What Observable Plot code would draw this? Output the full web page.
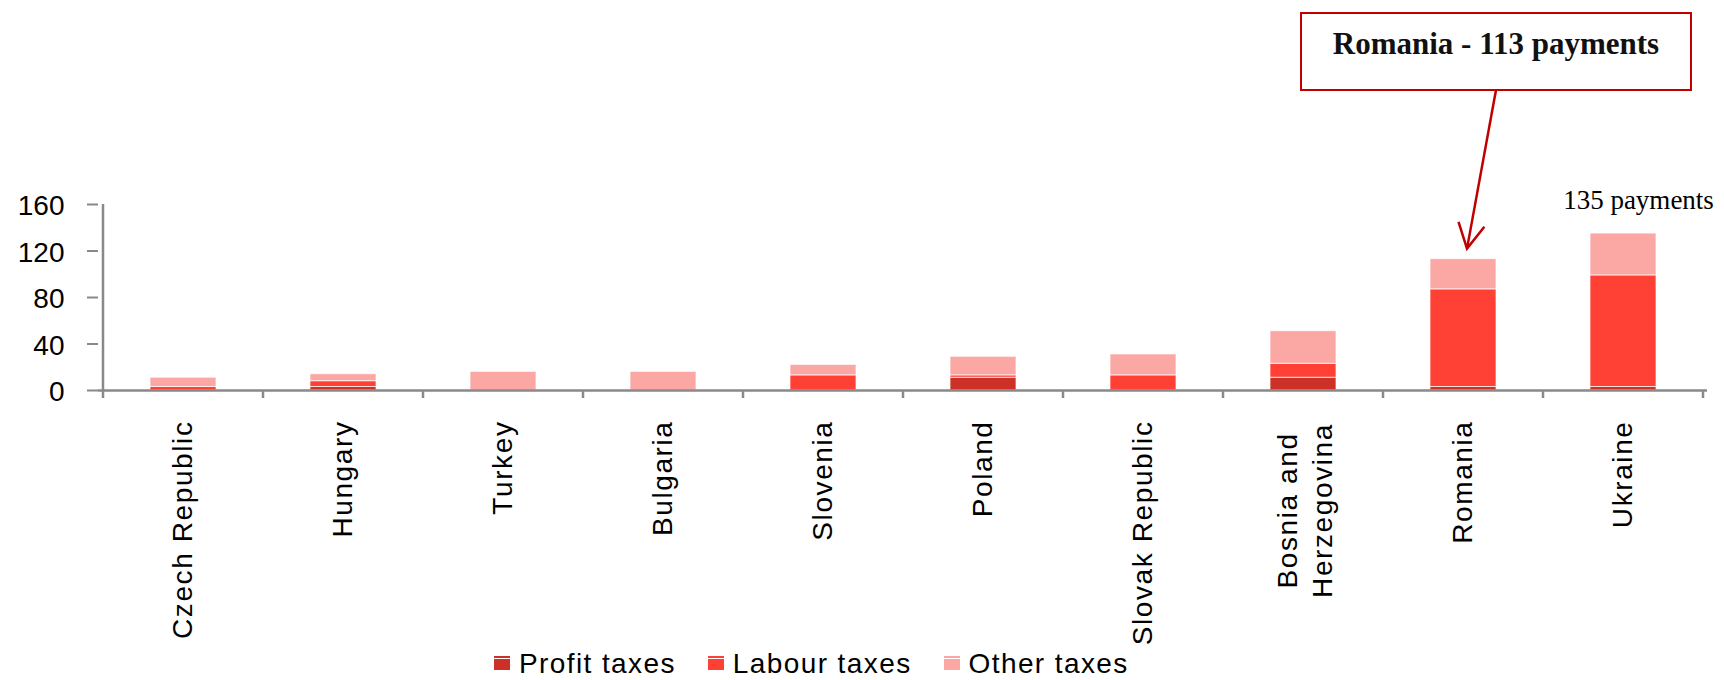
<!DOCTYPE html>
<html>
<head>
<meta charset="utf-8">
<script src="https://cdn.jsdelivr.net/npm/d3@7"></script>
<script src="https://cdn.jsdelivr.net/npm/@observablehq/plot@0.6"></script>
<style>
  body { margin: 0; background: #fff; }
  #wrap { position: relative; width: 1724px; height: 680px; overflow: hidden; font-family: "Liberation Sans", Arial, sans-serif; }
  #chart svg { display: block; overflow: visible; }
  #legend { position: absolute; left: 0; top: 640px; width: 1724px; height: 40px; display: flex; align-items: flex-start; padding-left: 494px; padding-top: 9.6px; box-sizing: border-box; }
  .item { display: flex; align-items: flex-start; margin-right: 32px; }
  .sw { width: 16px; height: 14px; margin-top: 6px; margin-right: 9px; }
  .lt { font-size: 28px; line-height: 28px; letter-spacing: 1.4px; color: #000; white-space: nowrap; }
</style>
</head>
<body>
<div id="wrap">
  <div id="chart"></div>
  <div id="legend"></div>
</div>
<script>
// ---- data (payments per year) ----
const countries = ["Czech Republic", "Hungary", "Turkey", "Bulgaria", "Slovenia", "Poland", "Slovak Republic", "Bosnia and Herzegovina", "Romania", "Ukraine"];
const profitTaxes = [0, 3, 0, 0, 0, 11, 0, 11, 3, 3];
const labourTaxes = [3, 5, 0, 0, 13, 2, 13, 12, 84, 96];
const otherTaxes  = [8, 6, 16, 16, 9, 16, 18, 28, 26, 36];
const seriesNames = ["Profit taxes", "Labour taxes", "Other taxes"];
const seriesColors = ["#CD3027", "#FE4035", "#FBA8A5"];
const yTicks = [0, 40, 80, 120, 160];
const calloutCountry = "Romania";
const labelCountry = "Ukraine";

const seriesValues = [profitTaxes, labourTaxes, otherTaxes];
const rows = [];
countries.forEach((c, i) => {
  seriesNames.forEach((s, k) => {
    if (seriesValues[k][i] > 0) rows.push({country: c, type: s, value: seriesValues[k][i]});
  });
});
const totals = countries.map((c, i) => ({country: c, total: profitTaxes[i] + labourTaxes[i] + otherTaxes[i]}));
const total = name => totals.find(d => d.country === name).total;

const axisGray = "#898989";

const chart = Plot.plot({
  width: 1724,
  height: 640,
  marginLeft: 98,
  marginRight: 17,
  marginTop: 204,
  marginBottom: 250,
  style: {fontFamily: "'Liberation Sans', Arial, sans-serif", color: "#000", background: "#fff", overflow: "visible"},
  x: {domain: countries, paddingInner: 0.59, paddingOuter: 0.295, label: null},
  y: {domain: [0, 160], label: null},
  color: {domain: seriesNames, range: seriesColors},
  marks: [
    Plot.barY(rows, {x: "country", y: "value", fill: "type", stroke: "#fff", strokeWidth: 1, strokeOpacity: 0.7}),
    Plot.ruleY([0], {stroke: axisGray, strokeWidth: 2.7}),
    Plot.axisY({ticks: yTicks, tickSize: 11, tickPadding: 23, fontSize: 28, stroke: axisGray, strokeWidth: 2, fill: "#000", label: null}),
    Plot.axisX({tickSize: 0, tickRotate: -90, tickPadding: 30, fontSize: 28, fill: "#000", label: null,
      tickFormat: d => d === "Bosnia and Herzegovina" ? "" : d}),
    Plot.text(["Bosnia and\nHerzegovina"], {x: () => "Bosnia and Herzegovina", frameAnchor: "bottom", text: d => d,
      rotate: -90, textAnchor: "middle", lineAnchor: "middle", lineHeight: 1.25, dy: 120, fontSize: 28, fill: "#000"}),
    Plot.text(totals.filter(d => d.country === labelCountry), {x: "country", y: "total", text: d => `${d.total} payments`,
      dx: 15, dy: -33, fontSize: 27, fontFamily: "'Liberation Serif', 'Times New Roman', serif", fill: "#000"})
  ]
});
chart.style.overflow = "visible";
document.getElementById("chart").appendChild(chart);

const svg = d3.select(chart);
// nudge y tick labels slightly down, like the original
svg.selectAll('g[aria-label="y-axis tick label"]').each(function() {
  const t = this.getAttribute("transform") || "";
  this.setAttribute("transform", (t + " translate(0,2)").trim());
});
// letter spacing like the original rendering
svg.selectAll('g[aria-label="x-axis tick label"] text, g[aria-label="text"] text')
  .filter(function(){ return this.textContent.indexOf("payments") < 0; })
  .style("letter-spacing", "1.6px");

// axis lines & category boundary ticks using the chart's own scales
const xs = chart.scale("x"), ys = chart.scale("y");
const step = xs.step, bw = xs.bandwidth;
const x0 = xs.apply(countries[0]) - (step - bw) / 2;
const yZero = ys.apply(0), yTop = ys.apply(160);
const g = svg.append("g").attr("stroke", axisGray).attr("stroke-width", 2.5);
g.append("line").attr("x1", x0).attr("x2", x0).attr("y1", yTop).attr("y2", yZero + 8);
for (let i = 1; i <= countries.length; i++) {
  const bx = x0 + i * step;
  g.append("line").attr("x1", bx).attr("x2", bx).attr("y1", yZero).attr("y2", yZero + 8);
}

// callout for Romania
const rc = xs.apply(calloutCountry) + bw / 2;
const cx = rc + 33;
const boxW = 390, boxTop = 13, boxBottom = 90;
const red = "#C00000";
const ann = svg.append("g");
ann.append("rect").attr("x", cx - boxW / 2).attr("y", boxTop).attr("width", boxW).attr("height", boxBottom - boxTop)
  .attr("fill", "#fff").attr("stroke", red).attr("stroke-width", 2);
ann.append("text").attr("x", cx).attr("y", 54).attr("text-anchor", "middle")
  .attr("font-family", "'Liberation Serif', 'Times New Roman', serif").attr("font-weight", "bold").attr("font-size", 31)
  .attr("fill", "#111").text(`${calloutCountry} - ${total(calloutCountry)} payments`);
const tip = [rc + 4, ys.apply(total(calloutCountry)) - 10];
const start = [cx, boxBottom];
ann.append("line").attr("x1", start[0]).attr("y1", start[1]).attr("x2", tip[0]).attr("y2", tip[1])
  .attr("stroke", red).attr("stroke-width", 2.5);
const dxv = start[0] - tip[0], dyv = start[1] - tip[1], L = Math.hypot(dxv, dyv);
const ux = dxv / L, uy = dyv / L, ha = 28 * Math.PI / 180, hl = 28;
const rot = a => [ux * Math.cos(a) - uy * Math.sin(a), ux * Math.sin(a) + uy * Math.cos(a)];
const [ax, ay] = rot(ha), [bx2, by2] = rot(-ha);
ann.append("path").attr("d", `M${tip[0] + ax * hl},${tip[1] + ay * hl}L${tip[0]},${tip[1]}L${tip[0] + bx2 * hl},${tip[1] + by2 * hl}`)
  .attr("fill", "none").attr("stroke", red).attr("stroke-width", 2.5).attr("stroke-linejoin", "miter");

// legend
const legend = d3.select("#legend");
seriesNames.forEach((s, k) => {
  const it = legend.append("div").attr("class", "item");
  const c = seriesColors[k];
  it.append("div").attr("class", "sw")
    .style("background", `linear-gradient(to bottom, ${c} 0, ${c} 1.5px, #fff 1.5px, #fff 2.5px, ${c} 2.5px, ${c} 100%)`);
  it.append("div").attr("class", "lt").text(s);
});
</script>
</body>
</html>
